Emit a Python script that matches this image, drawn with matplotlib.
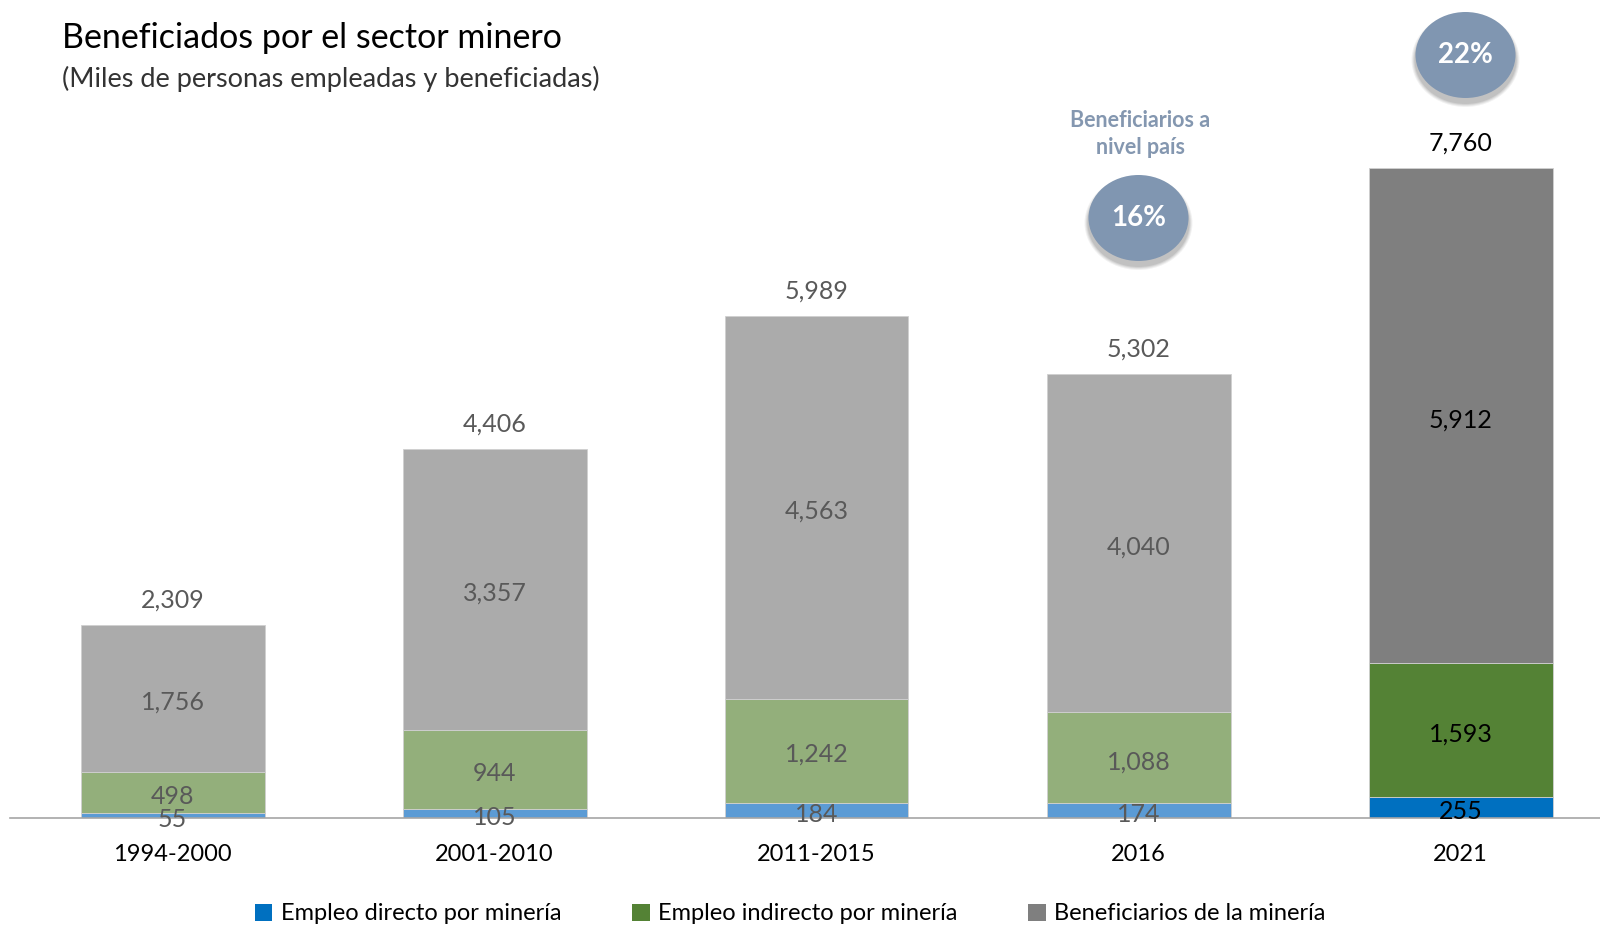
import matplotlib
matplotlib.use("Agg")
import matplotlib.pyplot as plt
from matplotlib.patches import Ellipse, Rectangle
import numpy as np

plt.rcParams['font.family'] = ['Lato', 'DejaVu Sans']

categories = ["1994-2000", "2001-2010", "2011-2015", "2016", "2021"]
directo = [55, 105, 184, 174, 255]
indirecto = [498, 944, 1242, 1088, 1593]
beneficiarios = [1756, 3357, 4563, 4040, 5912]
series_names = ["Empleo directo por minería", "Empleo indirecto por minería", "Beneficiarios de la minería"]
bubble_values = ["16%", "22%"]
bubble_cats = [3, 4]
bubble_note = "Beneficiarios a\nnivel país"

light_cols = ["#5B9BD5", "#93AF7B", "#ABABAB"]
dark_cols = ["#0070C0", "#548235", "#7F7F7F"]

W, H = 1600, 927
fig = plt.figure(figsize=(16, 9.27), dpi=100)
base_px = 818
ax_left_px, ax_right_px = 10, 1600
ax = fig.add_axes([ax_left_px / W, 1 - base_px / H, (ax_right_px - ax_left_px) / W, 0.95 - (1 - base_px / H)])

x = np.arange(len(categories))
px_per_unit = 650 / 7760
ax_h_px = (0.95 - (1 - base_px / H)) * H
ax.set_ylim(0, ax_h_px / px_per_unit)
spacing = 322.0
c0 = 172.5
ax.set_xlim(-(c0 - ax_left_px) / spacing, (ax_right_px - c0) / spacing)
bw = 184 / spacing

n = len(categories)
series = [directo, indirecto, beneficiarios]
bottom = np.zeros(n)
shift = 4 / px_per_unit
for si, vals in enumerate(series):
    cols = [light_cols[si]] * (n - 1) + [dark_cols[si]]
    ax.bar(x, vals, bw, bottom=bottom, color=cols, edgecolor="#D0D0D0", linewidth=0.6, zorder=2)
    for i, v in enumerate(vals):
        tc = "#000000" if i == n - 1 else "#595959"
        ax.text(x[i], bottom[i] + v / 2 - shift, f"{v:,}", ha="center", va="center",
                fontsize=18, color=tc, zorder=3)
    bottom = bottom + np.array(vals)

totals = bottom
for i, t in enumerate(totals):
    tc = "#000000" if i == n - 1 else "#595959"
    ax.text(x[i], t + 25 / px_per_unit, f"{int(t):,}", ha="center", va="center",
            fontsize=18, color=tc)

for s in ["top", "right", "left"]:
    ax.spines[s].set_visible(False)
ax.spines["bottom"].set_color("#A6A6A6")
ax.spines["bottom"].set_linewidth(1.2)
ax.set_yticks([])
ax.set_xticks(x)
ax.set_xticklabels(categories, fontsize=17, color="#000000")
ax.tick_params(axis="x", length=0, pad=19)

# Titles
fig.text(62 / W, 1 - 38 / H, "Beneficiados por el sector minero", fontsize=24.5, color="#000000",
         ha="left", va="center")
fig.text(62 / W, 1 - 79 / H, "(Miles de personas empleadas y beneficiadas)", fontsize=19.5,
         color="#333333", ha="left", va="center")

# Bubbles
bubble_y_px = [218, 55]
bubble_dx = [0, 5]
for bv, bc, by, dx in zip(bubble_values, bubble_cats, bubble_y_px, bubble_dx):
    cx_px = c0 + spacing * bc + dx
    for k, a in enumerate([0.05, 0.06, 0.07, 0.08]):
        grow = (4 - k) * 2
        sh = Ellipse((cx_px / W, 1 - (by + 5) / H), (100 + grow) / W, (86 + grow) / H,
                     transform=fig.transFigure, facecolor="#000000", alpha=a,
                     edgecolor="none", zorder=4)
        fig.patches.append(sh)
    e = Ellipse((cx_px / W, 1 - by / H), 100 / W, 86 / H, transform=fig.transFigure,
                facecolor="#8096B1", edgecolor="none", zorder=5)
    fig.patches.append(e)
    fig.text(cx_px / W, 1 - by / H, bv, fontsize=20, fontweight="bold", color="white",
             ha="center", va="center", zorder=6)

fig.text((c0 + spacing * 3 + 2) / W, 1 - 134 / H, bubble_note, fontsize=15.5, fontweight="bold",
         color="#8497B0", ha="center", va="center", linespacing=1.4)

# Legend
handles = [Rectangle((0, 0), 1, 1, facecolor=c, edgecolor="none") for c in dark_cols]
fig.legend(handles, series_names, loc="center", bbox_to_anchor=(790 / W, 1 - 914 / H),
           ncol=3, frameon=False, fontsize=17, handlelength=0.75, handleheight=0.75,
           handletextpad=0.35, columnspacing=3.0, borderaxespad=0)

fig.savefig("out.png", dpi=100)
